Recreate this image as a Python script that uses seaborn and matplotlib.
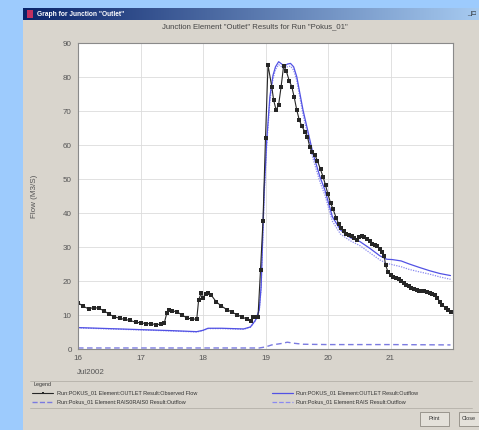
import matplotlib
matplotlib.use("Agg")
import matplotlib.pyplot as plt
from matplotlib.patches import Rectangle
from matplotlib.lines import Line2D
import numpy as np
import pandas as pd
import seaborn as sns

# ---- data (time in days of July 2002, flow in M3/S) ----
obs_t = [16.00, 16.08, 16.17, 16.25, 16.33, 16.42, 16.50, 16.58, 16.67, 16.75,
         16.83, 16.92, 17.00, 17.08, 17.17, 17.25, 17.33, 17.38, 17.42, 17.46,
         17.50, 17.58, 17.67, 17.75, 17.83, 17.90, 17.93, 17.97, 18.00, 18.04,
         18.08, 18.13, 18.21, 18.29, 18.38, 18.46, 18.54, 18.63, 18.71, 18.76,
         18.80, 18.84, 18.88, 18.92, 18.96, 19.00, 19.04, 19.10, 19.13, 19.17,
         19.21, 19.25, 19.29, 19.33, 19.38, 19.42, 19.46, 19.50, 19.54, 19.58,
         19.63, 19.67, 19.71, 19.75, 19.79, 19.83, 19.88, 19.92, 19.96, 20.00,
         20.04, 20.08, 20.13, 20.17, 20.21, 20.25, 20.29, 20.33, 20.38, 20.42,
         20.46, 20.50, 20.54, 20.58, 20.63, 20.67, 20.71, 20.75, 20.79, 20.83,
         20.86, 20.90, 20.92, 20.96, 21.00, 21.04, 21.08, 21.13, 21.17, 21.21,
         21.25, 21.29, 21.33, 21.38, 21.42, 21.46, 21.50, 21.54, 21.58, 21.63,
         21.67, 21.71, 21.75, 21.79, 21.83, 21.88, 21.92, 21.96]
obs_q = [13.6, 12.6, 11.8, 12.2, 12.0, 11.2, 10.2, 9.5, 9.0, 8.7,
         8.4, 7.9, 7.7, 7.5, 7.4, 7.2, 7.3, 7.6, 10.5, 11.5,
         11.2, 11.0, 9.9, 9.1, 8.8, 8.8, 14.4, 16.4, 15.0, 16.2,
         16.4, 15.9, 13.9, 12.7, 11.6, 10.9, 10.1, 9.4, 8.7, 8.2,
         9.3, 9.4, 9.5, 23.2, 37.7, 62.1, 83.5, 77.2, 73.2, 70.3,
         71.8, 77.2, 83.3, 81.9, 78.9, 77.2, 74.0, 70.3, 67.4, 65.6,
         63.9, 62.5, 59.3, 58.0, 57.1, 55.4, 52.8, 50.7, 48.2, 45.5,
         43.0, 41.2, 38.6, 36.8, 35.5, 34.6, 33.8, 33.5, 33.2, 32.7,
         32.2, 32.8, 33.3, 33.0, 32.5, 31.8, 31.0, 30.6, 30.2, 29.5,
         28.6, 27.4, 24.7, 22.7, 21.9, 21.3, 20.9, 20.5, 20.1, 19.5,
         18.9, 18.5, 18.0, 17.6, 17.3, 17.2, 17.2, 17.1, 16.9, 16.6,
         16.3, 15.9, 15.0, 13.9, 13.0, 12.1, 11.4, 10.8]

sim_t = [16.00, 16.50, 17.00, 17.50, 17.90, 18.00, 18.08, 18.30, 18.65, 18.76,
         18.84, 18.90, 18.93, 18.95, 18.98, 19.02, 19.07, 19.12, 19.16, 19.21,
         19.26, 19.30, 19.35, 19.40, 19.45, 19.50, 19.55, 19.60, 19.68, 19.76,
         19.87, 19.95, 20.07, 20.20, 20.35, 20.51, 20.67, 20.83, 20.94, 21.03,
         21.17, 21.30, 21.46, 21.63, 21.79, 21.96]
outlet_q = [6.3, 6.0, 5.7, 5.4, 5.1, 5.5, 6.1, 6.1, 5.9, 6.5,
            8.5, 11.5, 18.3, 30.0, 47.0, 61.5, 74.2, 80.5, 83.0, 84.5,
            83.8, 83.2, 83.8, 84.0, 83.0, 80.1, 75.2, 70.3, 63.9, 57.5,
            50.7, 46.8, 38.9, 35.0, 32.8, 31.6, 29.6, 27.4, 26.4, 26.3,
            25.9, 25.0, 24.0, 23.0, 22.2, 21.6]
rais_q = [6.2, 5.9, 5.6, 5.3, 5.0, 5.4, 6.0, 6.0, 5.8, 6.4,
          8.3, 11.2, 17.8, 29.0, 45.5, 60.0, 73.0, 79.5, 82.2, 83.6,
          83.0, 82.4, 83.0, 83.2, 82.0, 79.0, 74.0, 69.0, 62.5, 56.0,
          49.2, 45.3, 37.6, 33.8, 31.9, 30.4, 28.3, 26.2, 25.2, 24.8,
          24.2, 23.4, 22.7, 22.0, 21.2, 20.5]

up_t = [16.00, 18.90, 19.00, 19.10, 19.25, 19.35, 19.45, 19.60, 20.00, 21.00, 21.96]
up_q = [0.3, 0.3, 0.6, 1.2, 1.6, 2.0, 1.7, 1.4, 1.3, 1.3, 1.2]

x_ticks = [16, 17, 18, 19, 20, 21]
x_tick_labels = ["16", "17", "18", "19", "20", "21"]
y_ticks = list(range(0, 91, 10))

series_labels = [
    "Run:POKUS_01 Element:OUTLET Result:Observed Flow",
    "Run:Pokus_01 Element:RAIS0RAIS0 Result:Outflow",
    "Run:POKUS_01 Element:OUTLET Result:Outflow",
    "Run:Pokus_01 Element:RAIS Result:Outflow",
]

# ---- style ----
sns.set_style("whitegrid")
plt.rcParams["font.family"] = ["Liberation Sans", "DejaVu Sans"]

W, H = 479, 430
fig = plt.figure(figsize=(W / 100, H / 100), dpi=100)
fig.patch.set_facecolor("#9DCBFD")


def fx(x):
    return x / W


def fy(y):
    return 1 - y / H


def box(x0, y0, x1, y1, **kw):
    r = Rectangle((fx(x0), fy(y1)), (x1 - x0) / W, (y1 - y0) / H,
                  transform=fig.transFigure, **kw)
    fig.add_artist(r)
    return r


# window body
box(23, 8, 480, 431, facecolor="#D9D5CD", edgecolor="none", zorder=-5)

# title bar with gradient
tb = fig.add_axes([fx(23), fy(20), (W - 23) / W, 12 / H], zorder=2)
grad = np.linspace(0, 1, 256)[None, :]
c0 = np.array([10, 36, 106]) / 255
c1 = np.array([166, 202, 240]) / 255
img = (c0[None, None, :] * (1 - grad[..., None]) + c1[None, None, :] * grad[..., None])
tb.imshow(img, aspect="auto", extent=[0, 1, 0, 1])
tb.set_axis_off()
fig.text(fx(37), fy(14), 'Graph for Junction "Outlet"', color="white",
         fontsize=4.8, fontweight="bold", va="center", ha="left", zorder=3)
box(27, 10.5, 33, 17.5, facecolor="#C03060", edgecolor="none", zorder=3)
fig.text(fx(472), fy(14), "_|□", color="#202020", fontsize=4.5,
         va="center", ha="center", zorder=3)

# ---- main chart ----
ax = fig.add_axes([fx(78), fy(349), (453 - 78) / W, (349 - 43) / H])
ax.set_facecolor("white")

blue = "#5252E4"
light_blue = "#8A8AF0"

sns.lineplot(x=up_t, y=up_q, ax=ax, color="#7A7AE0", lw=1.0,
             dashes=False, linestyle=(0, (4, 2.5)), label=series_labels[1])
sns.lineplot(x=sim_t, y=rais_q, ax=ax, color=light_blue, lw=0.9,
             linestyle=(0, (1, 1)), label=series_labels[3])
sns.lineplot(x=sim_t, y=outlet_q, ax=ax, color=blue, lw=0.9,
             label=series_labels[2])
sns.lineplot(x=obs_t, y=obs_q, ax=ax, color="#262626", lw=0.8,
             marker="s", markersize=2.5, markeredgewidth=0,
             label=series_labels[0])
handles = {h.get_label(): h for h in ax.get_lines()}
ax.get_legend().remove()

ax.set_xlim(16, 22)
ax.set_ylim(0, 90)
ax.set_xticks(x_ticks)
ax.set_xticklabels(x_tick_labels)
ax.set_yticks(y_ticks)
ax.grid(True, color="#DCDCDC", lw=0.6)
for s in ax.spines.values():
    s.set_color("#8A8A8A")
    s.set_linewidth(0.8)
ax.tick_params(axis="both", length=3, width=0.6, color="#8A8A8A",
               labelsize=5.8, labelcolor="#555555", pad=1.5)
ax.set_xlabel("")
ax.set_ylabel("Flow (M3/S)", fontsize=5.8, color="#555555", labelpad=18)

fig.text(fx(162), fy(27),
         'Junction Element "Outlet" Results for Run "Pokus_01"',
         fontsize=5.6, color="#444444", ha="left", va="center")
fig.text(fx(77), fy(372), "Jul2002", fontsize=5.8, color="#555555",
         ha="left", va="center")

# ---- legend area ----
fig.add_artist(Line2D([fx(30), fx(472)], [fy(381), fy(381)],
                      transform=fig.transFigure, color="#B5B1A9", lw=0.6))
fig.add_artist(Line2D([fx(30), fx(472)], [fy(408), fy(408)],
                      transform=fig.transFigure, color="#B5B1A9", lw=0.6))
fig.text(fx(33), fy(384.5), "Legend", fontsize=3.9, color="#333333",
         ha="left", va="center")

entries = [
    (series_labels[0], 32, 53, 57, 393),
    (series_labels[1], 32, 53, 57, 402),
    (series_labels[2], 272, 293, 296, 393),
    (series_labels[3], 272, 293, 296, 402),
]
for lab, x0, x1, xt, yy in entries:
    h = handles[lab]
    ln = Line2D([fx(x0), fx(x1)], [fy(yy), fy(yy)], transform=fig.transFigure,
                color=h.get_color(), lw=h.get_linewidth(),
                linestyle=h.get_linestyle())
    fig.add_artist(ln)
    if h.get_marker() not in (None, "None", ""):
        fig.add_artist(Line2D([fx((x0 + x1) / 2)], [fy(yy)],
                              transform=fig.transFigure, color=h.get_color(),
                              marker=h.get_marker(), markersize=2.0,
                              markeredgewidth=0, linestyle="none"))
    fig.text(fx(xt), fy(yy), lab, fontsize=4.0, color="#333333",
             ha="left", va="center")

# buttons
for x0, x1, xt, lab in [(420, 449, 434.5, "Print"), (459, 490, 469, "Close")]:
    box(x0, 412, x1, 426, facecolor="#E4E1DA", edgecolor="#8E8A82", lw=0.6,
        zorder=2)
    fig.text(fx(xt), fy(419), lab, fontsize=4.0, color="#333333",
             ha="center", va="center", zorder=3)

fig.savefig("out.png", dpi=100, facecolor=fig.get_facecolor())
